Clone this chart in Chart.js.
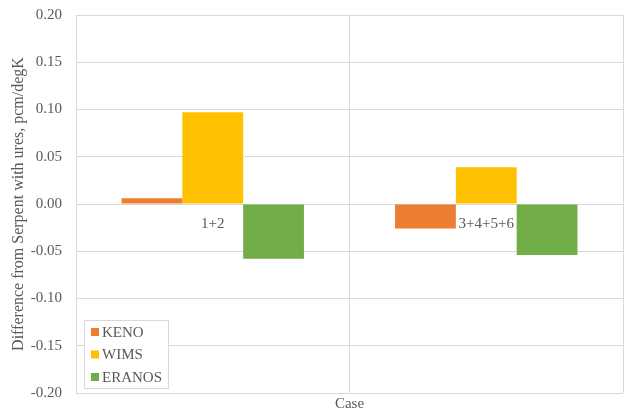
<!DOCTYPE html>
<html>
<head>
<meta charset="utf-8">
<script src="https://cdn.jsdelivr.net/npm/chart.js@4/dist/chart.umd.min.js"></script>
<style>
  html, body { margin: 0; padding: 0; background: #fff; }
  #wrap { width: 629px; height: 414px; }
</style>
</head>
<body>
<div id="wrap"><canvas id="chart" width="629" height="414"></canvas></div>
<script>
// DATA
const cases = ["1+2", "3+4+5+6"];
const keno = [0.006, -0.026];
const wims = [0.097, 0.039];
const eranos = [-0.058, -0.054];
const yTicks = [-0.20, -0.15, -0.10, -0.05, 0.00, 0.05, 0.10, 0.15, 0.20];

const FONT = "'Liberation Serif', 'Times New Roman', serif";
const TXT = "#595959";
const GRID = "#d9d9d9";

// legend box drawn inside the plot, bottom-left
const boxLegend = {
  id: "boxLegend",
  afterDraw(chart) {
    const c = chart.ctx;
    const x = 84.5, y = 320.5, w = 84, h = 68;
    c.save();
    c.fillStyle = "#fff";
    c.fillRect(x, y, w, h);
    c.strokeStyle = GRID;
    c.lineWidth = 1;
    c.strokeRect(x, y, w, h);
    c.font = "15px " + FONT;
    c.textBaseline = "middle";
    chart.data.datasets.forEach((ds, i) => {
      const cy = 332 + i * 22.5;
      c.fillStyle = ds.backgroundColor;
      c.fillRect(91, cy - 4, 8, 8);
      c.fillStyle = TXT;
      c.fillText(ds.label, 102, cy + 1);
    });
    c.restore();
  }
};

const ctx = document.getElementById("chart").getContext("2d");
const chart = new Chart(ctx, {
  type: "bar",
  data: {
    labels: cases,
    datasets: [
      { label: "KENO", data: keno, backgroundColor: "#ED7D31" },
      { label: "WIMS", data: wims, backgroundColor: "#FFC000" },
      { label: "ERANOS", data: eranos, backgroundColor: "#70AD47" }
    ]
  },
  options: {
    responsive: false,
    animation: false,
    layout: { padding: { left: 0, top: 15, right: 6, bottom: 0 } },
    datasets: { bar: { categoryPercentage: 0.667, barPercentage: 1.0 } },
    plugins: { legend: { display: false }, tooltip: { enabled: false } },
    scales: {
      x: {
        type: "category",
        position: { y: 0 },
        grid: { color: GRID, offset: true, drawTicks: false },
        border: { color: GRID },
        ticks: { color: TXT, font: { family: FONT, size: 15 }, padding: 11, maxRotation: 0 }
      },
      x2: {
        type: "category",
        position: "bottom",
        grid: { display: false, drawTicks: false },
        border: { display: false },
        ticks: { display: false },
        title: { display: true, text: "Case", color: TXT, font: { family: FONT, size: 15 }, padding: { top: 0, bottom: 1 } },
        afterFit: (s) => { s.height = 21; }
      },
      y: {
        min: -0.2,
        max: 0.2,
        afterBuildTicks: (s) => { s.ticks = yTicks.map(v => ({ value: v })); },
        grid: { color: GRID, drawTicks: false },
        border: { color: GRID },
        ticks: {
          color: TXT,
          font: { family: FONT, size: 15 },
          padding: 14,
          callback: (v) => v.toFixed(2)
        },
        title: {
          display: true,
          text: "Difference from Serpent with ures, pcm/degK",
          color: TXT,
          font: { family: FONT, size: 16 },
          padding: { top: 9, bottom: 0 }
        },
        afterFit: (s) => {
          s.width = 76;
          s.paddingTop = 0;
          s.paddingBottom = 0;
        }
      }
    }
  },
  plugins: [boxLegend]
});
</script>
</body>
</html>
